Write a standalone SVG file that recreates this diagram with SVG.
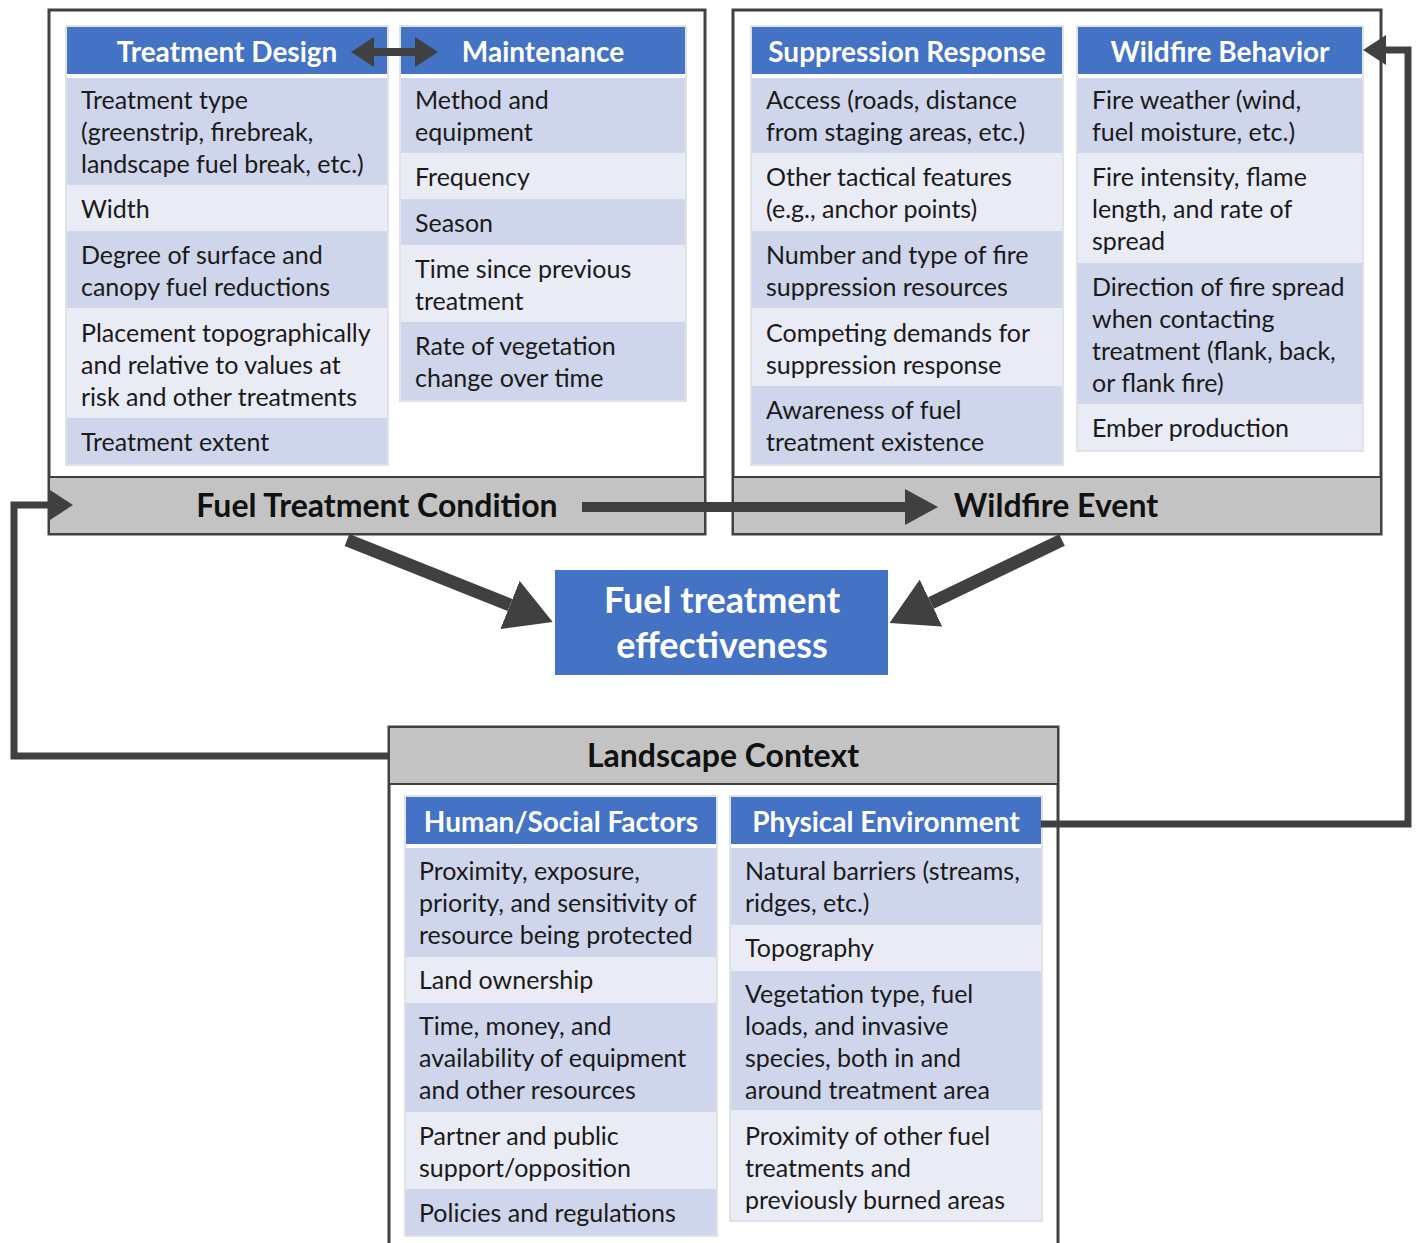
<svg xmlns="http://www.w3.org/2000/svg" width="1416" height="1243" viewBox="0 0 1416 1243">
<style>
.frame{fill:#ffffff;stroke:#404040;stroke-width:3}
.bar{fill:#c3c3c3;stroke:#404040;stroke-width:2}
.hdr{fill:#4472c4}
.dk{fill:#cfd5ea}
.lt{fill:#e9ebf5}
.tbl{fill:none;stroke:#d6d9e0;stroke-width:1.5}
.t{font-family:Lato,"Liberation Sans",sans-serif;font-size:25px;fill:#1a1a1a}
.h{font-family:Lato,"Liberation Sans",sans-serif;font-size:28px;font-weight:bold;fill:#ffffff;text-anchor:middle}
.b{font-family:Lato,"Liberation Sans",sans-serif;font-size:32px;font-weight:bold;fill:#111111;text-anchor:middle}
.e{font-family:Lato,"Liberation Sans",sans-serif;font-size:36px;font-weight:bold;fill:#ffffff;text-anchor:middle}
.c{fill:none;stroke:#404040;stroke-linejoin:miter}
</style>
<defs>
<marker id="mHuge" markerUnits="userSpaceOnUse" markerWidth="46" markerHeight="52" viewBox="0 0 46 52" refX="0" refY="26" orient="auto"><path d="M0,0 L46,26 L0,52 z" fill="#404040"/></marker>
<marker id="mBig" markerUnits="userSpaceOnUse" markerWidth="33" markerHeight="36" viewBox="0 0 33 36" refX="0" refY="18" orient="auto"><path d="M0,0 L33,18 L0,36 z" fill="#404040"/></marker>
<marker id="mSmall" markerUnits="userSpaceOnUse" markerWidth="23" markerHeight="30" viewBox="0 0 23 30" refX="0" refY="15" orient="auto-start-reverse"><path d="M0,0 L23,15 L0,30 z" fill="#404040"/></marker>
</defs>

<g id="fuel-treatment-condition">
<rect class="frame" x="49" y="10" width="656" height="524"/>
<rect class="bar" x="49" y="477" width="656" height="57"/>
<text class="b" x="377" y="517">Fuel Treatment Condition</text>
</g>

<g id="treatment-design">
<rect class="hdr" x="67" y="27" width="320" height="47"/>
<text class="h" x="227" y="62">Treatment Design</text>
<rect class="dk" x="67" y="78" width="320" height="107"/>
<rect class="lt" x="67" y="185" width="320" height="46"/>
<rect class="dk" x="67" y="231" width="320" height="77"/>
<rect class="lt" x="67" y="308" width="320" height="110"/>
<rect class="dk" x="67" y="418" width="320" height="46"/>
<rect class="tbl" x="66" y="26" width="322" height="439"/>
<text class="t" x="81" y="109">Treatment type</text>
<text class="t" x="81" y="141">(greenstrip, firebreak,</text>
<text class="t" x="81" y="173">landscape fuel break, etc.)</text>
<text class="t" x="81" y="218">Width</text>
<text class="t" x="81" y="264">Degree of surface and</text>
<text class="t" x="81" y="296">canopy fuel reductions</text>
<text class="t" x="81" y="342">Placement topographically</text>
<text class="t" x="81" y="374">and relative to values at</text>
<text class="t" x="81" y="406">risk and other treatments</text>
<text class="t" x="81" y="451">Treatment extent</text>
</g>

<g id="maintenance">
<rect class="hdr" x="401" y="27" width="284" height="47"/>
<text class="h" x="543" y="62">Maintenance</text>
<rect class="dk" x="401" y="78" width="284" height="75"/>
<rect class="lt" x="401" y="153" width="284" height="46"/>
<rect class="dk" x="401" y="199" width="284" height="46"/>
<rect class="lt" x="401" y="245" width="284" height="77"/>
<rect class="dk" x="401" y="322" width="284" height="78"/>
<rect class="tbl" x="400" y="26" width="286" height="375"/>
<text class="t" x="415" y="109">Method and</text>
<text class="t" x="415" y="141">equipment</text>
<text class="t" x="415" y="186">Frequency</text>
<text class="t" x="415" y="232">Season</text>
<text class="t" x="415" y="278">Time since previous</text>
<text class="t" x="415" y="310">treatment</text>
<text class="t" x="415" y="355">Rate of vegetation</text>
<text class="t" x="415" y="387">change over time</text>
</g>

<g id="wildfire-event">
<rect class="frame" x="733" y="10" width="648" height="524"/>
<rect class="bar" x="733" y="477" width="648" height="57"/>
<text class="b" x="1056" y="517">Wildfire Event</text>
</g>

<g id="suppression-response">
<rect class="hdr" x="752" y="27" width="310" height="47"/>
<text class="h" x="907" y="62">Suppression Response</text>
<rect class="dk" x="752" y="78" width="310" height="75"/>
<rect class="lt" x="752" y="153" width="310" height="78"/>
<rect class="dk" x="752" y="231" width="310" height="77"/>
<rect class="lt" x="752" y="308" width="310" height="78"/>
<rect class="dk" x="752" y="386" width="310" height="78"/>
<rect class="tbl" x="751" y="26" width="312" height="439"/>
<text class="t" x="766" y="109">Access (roads, distance</text>
<text class="t" x="766" y="141">from staging areas, etc.)</text>
<text class="t" x="766" y="186">Other tactical features</text>
<text class="t" x="766" y="218">(e.g., anchor points)</text>
<text class="t" x="766" y="264">Number and type of fire</text>
<text class="t" x="766" y="296">suppression resources</text>
<text class="t" x="766" y="342">Competing demands for</text>
<text class="t" x="766" y="374">suppression response</text>
<text class="t" x="766" y="419">Awareness of fuel</text>
<text class="t" x="766" y="451">treatment existence</text>
</g>

<g id="wildfire-behavior">
<rect class="hdr" x="1078" y="27" width="284" height="47"/>
<text class="h" x="1220" y="62">Wildfire Behavior</text>
<rect class="dk" x="1078" y="78" width="284" height="75"/>
<rect class="lt" x="1078" y="153" width="284" height="110"/>
<rect class="dk" x="1078" y="263" width="284" height="141"/>
<rect class="lt" x="1078" y="404" width="284" height="46"/>
<rect class="tbl" x="1077" y="26" width="286" height="425"/>
<text class="t" x="1092" y="109">Fire weather (wind,</text>
<text class="t" x="1092" y="141">fuel moisture, etc.)</text>
<text class="t" x="1092" y="186">Fire intensity, flame</text>
<text class="t" x="1092" y="218">length, and rate of</text>
<text class="t" x="1092" y="250">spread</text>
<text class="t" x="1092" y="296">Direction of fire spread</text>
<text class="t" x="1092" y="328">when contacting</text>
<text class="t" x="1092" y="360">treatment (flank, back,</text>
<text class="t" x="1092" y="392">or flank fire)</text>
<text class="t" x="1092" y="437">Ember production</text>
</g>

<g id="fuel-treatment-effectiveness">
<rect x="555" y="570" width="333" height="105" fill="#4472c4"/>
<text class="e" x="722" y="613">Fuel treatment</text>
<text class="e" x="722" y="658">effectiveness</text>
</g>

<g id="landscape-context">
<rect class="frame" x="389" y="727" width="669" height="530"/>
<rect class="bar" x="389" y="727" width="669" height="57"/>
<text class="b" x="723" y="767">Landscape Context</text>
</g>

<g id="human-social-factors">
<rect class="hdr" x="406" y="797" width="310" height="47"/>
<text class="h" x="561" y="832">Human/Social Factors</text>
<rect class="dk" x="406" y="848" width="310" height="109"/>
<rect class="lt" x="406" y="957" width="310" height="46"/>
<rect class="dk" x="406" y="1003" width="310" height="109"/>
<rect class="lt" x="406" y="1112" width="310" height="77"/>
<rect class="dk" x="406" y="1189" width="310" height="46"/>
<rect class="tbl" x="405" y="796" width="312" height="440"/>
<text class="t" x="419" y="880">Proximity, exposure,</text>
<text class="t" x="419" y="912">priority, and sensitivity of</text>
<text class="t" x="419" y="944">resource being protected</text>
<text class="t" x="419" y="989">Land ownership</text>
<text class="t" x="419" y="1035">Time, money, and</text>
<text class="t" x="419" y="1067">availability of equipment</text>
<text class="t" x="419" y="1099">and other resources</text>
<text class="t" x="419" y="1145">Partner and public</text>
<text class="t" x="419" y="1177">support/opposition</text>
<text class="t" x="419" y="1222">Policies and regulations</text>
</g>

<g id="physical-environment">
<rect class="hdr" x="731" y="797" width="310" height="47"/>
<text class="h" x="886" y="832">Physical Environment</text>
<rect class="dk" x="731" y="848" width="310" height="77"/>
<rect class="lt" x="731" y="925" width="310" height="46"/>
<rect class="dk" x="731" y="971" width="310" height="139"/>
<rect class="lt" x="731" y="1110" width="310" height="110"/>
<rect class="tbl" x="730" y="796" width="312" height="425"/>
<text class="t" x="745" y="880">Natural barriers (streams,</text>
<text class="t" x="745" y="912">ridges, etc.)</text>
<text class="t" x="745" y="957">Topography</text>
<text class="t" x="745" y="1003">Vegetation type, fuel</text>
<text class="t" x="745" y="1035">loads, and invasive</text>
<text class="t" x="745" y="1067">species, both in and</text>
<text class="t" x="745" y="1099">around treatment area</text>
<text class="t" x="745" y="1145">Proximity of other fuel</text>
<text class="t" x="745" y="1177">treatments and</text>
<text class="t" x="745" y="1209">previously burned areas</text>
</g>

<g id="connectors">
<path class="c" d="M374,52 H415" stroke-width="8" marker-start="url(#mSmall)" marker-end="url(#mSmall)"/>
<path class="c" d="M582,507 H905" stroke-width="10" marker-end="url(#mBig)"/>
<path class="c" d="M347,540 L510,605" stroke-width="13" marker-end="url(#mHuge)"/>
<path class="c" d="M1062,540 L931,603" stroke-width="13" marker-end="url(#mHuge)"/>
<path class="c" d="M389,756 H14 V505 H50" stroke-width="7" marker-end="url(#mSmall)"/>
<path class="c" d="M1041,824 H1408 V50 H1386" stroke-width="7" marker-end="url(#mSmall)"/>
</g>
</svg>
